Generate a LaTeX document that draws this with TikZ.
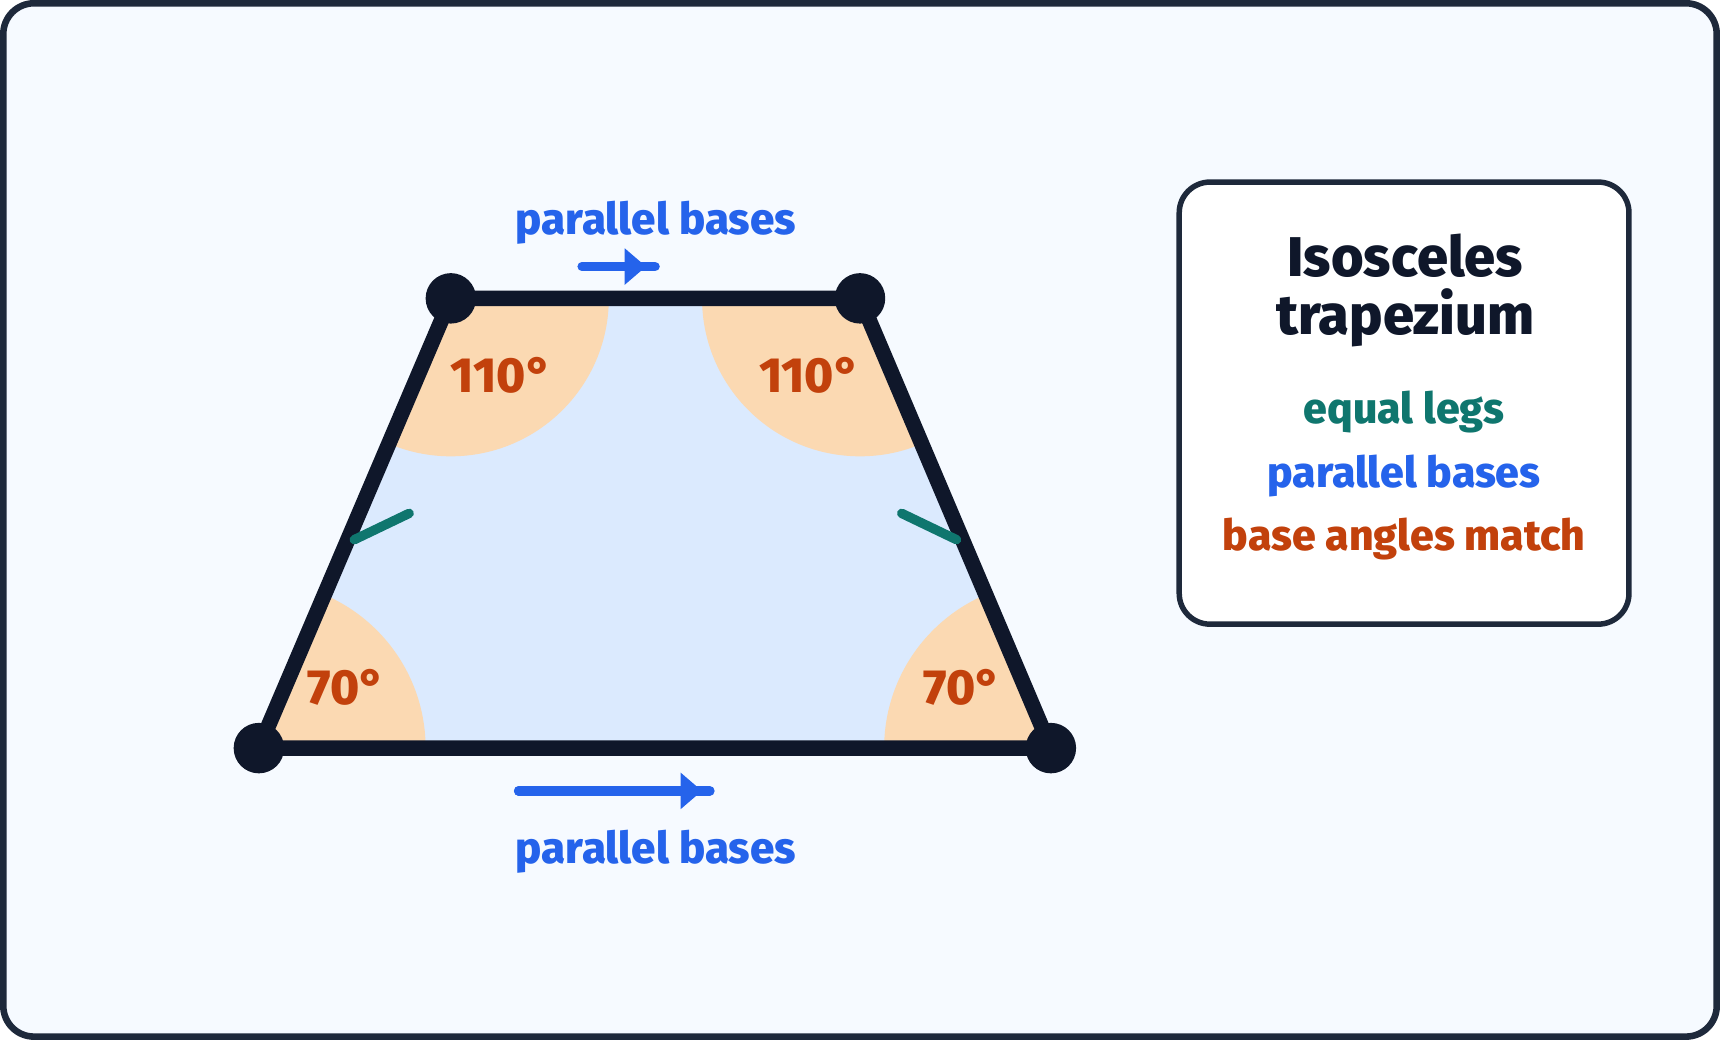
\documentclass[tikz,border=0pt]{standalone}
\usepackage{fontspec}
\setmainfont{Fira Sans}[BoldFont={Fira Sans ExtraBold}]
\usetikzlibrary{arrows.meta}
\definecolor{frameline}{HTML}{1E293B}
\definecolor{pagebg}{HTML}{F6FAFF}
\definecolor{legline}{HTML}{0F172A}
\definecolor{trapfill}{HTML}{DBEAFE}
\definecolor{anglefill}{HTML}{FBD9B2}
\definecolor{baseblue}{HTML}{2563EB}
\definecolor{legteal}{HTML}{0F766E}
\definecolor{angleorange}{HTML}{C2410C}
\begin{document}
\begin{tikzpicture}[x=0.5pt,y=0.5pt,
  lbl/.style={font=\bfseries\fontsize{19.5}{23}\selectfont, inner sep=0pt},
  titlelbl/.style={font=\bfseries\fontsize{25.5}{30}\selectfont, text=legline, inner sep=0pt},
  anglbl/.style={font=\bfseries\fontsize{22.5}{26}\selectfont, text=angleorange, inner sep=0pt},
  vertex/.style={circle, fill=legline, minimum size=23pt, inner sep=0pt},
  basearrow/.style={baseblue, line width=4.5pt, line cap=round},
  tickmark/.style={legteal, line width=4.3pt, line cap=round}]
\useasboundingbox (0,0) rectangle (1568,948);
\draw[frameline, fill=pagebg, line width=3pt, rounded corners=14pt] (3,3) rectangle (1565,945);

% corners of the trapezium
\coordinate (bl) at (236,266);
\coordinate (tl) at (411,676);
\coordinate (tr) at (784,676);
\coordinate (br) at (958,266);

\fill[trapfill] (bl) -- (tl) -- (tr) -- (br) -- cycle;
\begin{scope}
\clip (bl) -- (tl) -- (tr) -- (br) -- cycle;
\fill[anglefill] (tl) circle (72pt);
\fill[anglefill] (tr) circle (72pt);
\fill[anglefill] (bl) circle (76pt);
\fill[anglefill] (br) circle (76pt);
\end{scope}
\draw[legline, line width=7pt, line join=round] (bl) -- (tl) -- (tr) -- (br) -- cycle;

\node[vertex] (vbl) at (bl) {};
\node[vertex] (vtl) at (tl) {};
\node[vertex] (vtr) at (tr) {};
\node[vertex] (vbr) at (br) {};

\node[anglbl] (atl) at (457,606) {110°};
\node[anglbl] (atr) at (738,606) {110°};
\node[anglbl] (abl) at (316,321) {70°};
\node[anglbl] (abr) at (877,321) {70°};

% equal legs
\coordinate (lt1) at (323,456);
\coordinate (lt2) at (373,480);
\coordinate (rt1) at (822,480);
\coordinate (rt2) at (872,456);
\draw[tickmark] (lt1) -- (lt2);
\draw[tickmark] (rt1) -- (rt2);

% parallel bases
\node[lbl, text=baseblue, font=\bfseries\fontsize{20}{24}\selectfont] (toplbl) at (598,745) {parallel bases};
\coordinate (ta1) at (531,705);
\coordinate (ta2) at (597,705);
\coordinate (tatip) at (589,705);
\draw[basearrow] (ta1) -- (ta2);
\draw[basearrow, -{Triangle[length=9.75pt,width=16pt]}] (ta1) -- (tatip);

\node[lbl, text=baseblue, font=\bfseries\fontsize{20}{24}\selectfont] (botlbl) at (598,172) {parallel bases};
\coordinate (ba1) at (473,227);
\coordinate (ba2) at (647,227);
\coordinate (batip) at (640,227);
\draw[basearrow] (ba1) -- (ba2);
\draw[basearrow, -{Triangle[length=9.75pt,width=16pt]}] (ba1) -- (batip);

% key
\node[draw=frameline, fill=white, line width=2.5pt, rounded corners=14pt,
  minimum width=205pt, minimum height=201.5pt] (keybox) at (1280,580.5) {};
\node[titlelbl] (keyt1) at (1281,715) {Isosceles};
\node[titlelbl] (keyt2) at (1281,658) {trapezium};
\node[lbl, text=legteal] (key1) at (1280,572) {equal legs};
\node[lbl, text=baseblue] (key2) at (1280,514) {parallel bases};
\node[lbl, text=angleorange] (key3) at (1280,457) {base angles match};
\end{tikzpicture}
\end{document}
